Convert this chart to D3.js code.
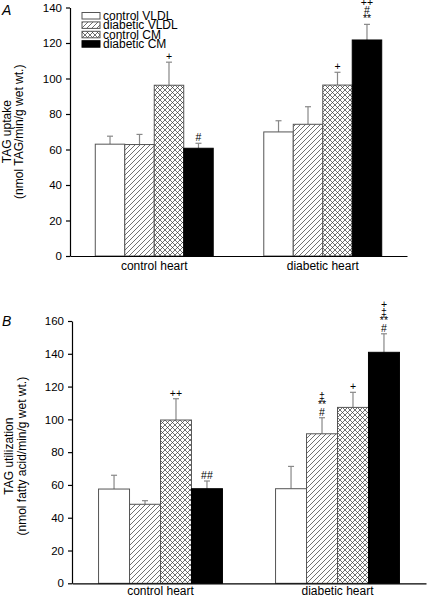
<!DOCTYPE html>
<html><head><meta charset="utf-8">
<script src="https://cdn.jsdelivr.net/npm/d3@7"></script>
<style>body{margin:0;background:#fff} svg{display:block} text{font-family:Arial,"Liberation Sans",sans-serif;fill:#000}</style>
</head><body><svg id="c" width="427" height="599"></svg>
<script>
const categories = ["control heart", "diabetic heart"];
const seriesNames = ["control VLDL", "diabetic VLDL", "control CM", "diabetic CM"];

const uptakeValues = [[63.0, 62.8, 96.2, 60.7], [69.9, 74.2, 96.3, 121.7]];
const uptakeErrors = [[4.5, 5.7, 13.0, 2.8], [6.3, 9.9, 7.2, 8.8]];
const uptakeMarks = [[[], [], ["+"], ["#"]], [[], [], ["+"], ["++", "#", "**"]]];
const uptakeTicks = [0, 20, 40, 60, 80, 100, 120, 140];

const utilValues = [[57.5, 48.2, 99.6, 57.7], [57.7, 91.2, 107.3, 140.9]];
const utilErrors = [[8.4, 2.2, 13.0, 4.7], [13.6, 9.8, 9.2, 11.3]];
const utilMarks = [[[], [], ["++"], ["##"]], [[], ["‡", "**", "#"], ["+"], ["+", "‡", "**", "#"]]];
const utilTicks = [0, 20, 40, 60, 80, 100, 120, 140, 160];

const svg = d3.select("#c");
const defs = svg.append("defs");
const hatch = defs.append("pattern").attr("id", "hatch").attr("patternUnits", "userSpaceOnUse")
  .attr("width", 5).attr("height", 5);
hatch.append("rect").attr("width", 5).attr("height", 5).attr("fill", "#fff");
hatch.append("path").attr("d", "M0,5L5,0M-1,1L1,-1M4,6L6,4").attr("stroke", "#333").attr("stroke-width", 0.7);
const cross = defs.append("pattern").attr("id", "cross").attr("patternUnits", "userSpaceOnUse")
  .attr("width", 5).attr("height", 5);
cross.append("rect").attr("width", 5).attr("height", 5).attr("fill", "#fff");
cross.append("path").attr("d", "M0,5L5,0M-1,1L1,-1M4,6L6,4M0,0L5,5M-1,4L1,6M4,-1L6,1").attr("stroke", "#333").attr("stroke-width", 0.7);

const fills = ["#fff", "url(#hatch)", "url(#cross)", "#000"];
const strokes = ["#555", "#555", "#555", "#000"];
const FONT = "Arial, 'Liberation Sans', sans-serif";

function panel(cfg) {
  const x0 = d3.scaleBand().domain(categories).range([cfg.x0, cfg.x1]).paddingInner(0.3).paddingOuter(0.15);
  const x1 = d3.scaleBand().domain(seriesNames).range([0, x0.bandwidth()]);
  const y = d3.scaleLinear().domain([0, cfg.max]).range([cfg.yBottom, cfg.yTop]);
  const g = svg.append("g");

  categories.forEach((cat, ci) => {
    seriesNames.forEach((s, si) => {
      const v = cfg.values[ci][si], e = cfg.errors[ci][si];
      const bx = x0(cat) + x1(s), bw = x1.bandwidth();
      const cx = bx + bw / 2;
      const et = y(v + e);
      g.append("line").attr("x1", cx).attr("x2", cx).attr("y1", y(v)).attr("y2", et)
        .attr("stroke", "#888").attr("stroke-width", 1.2);
      g.append("line").attr("x1", cx - 3).attr("x2", cx + 3).attr("y1", et).attr("y2", et)
        .attr("stroke", "#888").attr("stroke-width", 1.2);
      g.append("rect").attr("x", bx).attr("y", y(v)).attr("width", bw).attr("height", y(0) - y(v))
        .attr("fill", fills[si]).attr("stroke", strokes[si]).attr("stroke-width", 1);
      const marks = cfg.marks[ci][si];
      const n = marks.length;
      marks.forEach((m, mi) => {
        g.append("text").attr("x", cx).attr("y", et - 2 - (n - 1 - mi) * 8)
          .attr("text-anchor", "middle").attr("font-size", 10.5).text(m);
      });
    });
  });

  const ya = g.append("g").attr("transform", `translate(${cfg.x0},0)`)
    .call(d3.axisLeft(y).tickValues(cfg.ticks).tickSize(4).tickPadding(4).tickSizeOuter(0));
  ya.select(".domain").attr("stroke", "#000").attr("stroke-width", 1.2);
  ya.selectAll(".tick line").attr("stroke", "#000").attr("stroke-width", 1.2);
  ya.selectAll(".tick text").attr("font-size", 11.5).attr("font-family", FONT).attr("fill", "#000");

  const xa = g.append("g").attr("transform", `translate(0,${cfg.yBottom})`)
    .call(d3.axisBottom(x0).tickSize(0).tickPadding(cfg.catPad).tickSizeOuter(0));
  xa.select(".domain").attr("stroke", "#000").attr("stroke-width", 1.2);
  xa.selectAll(".tick text").attr("font-size", 12).attr("font-family", FONT).attr("fill", "#000");

  const ym = (cfg.yBottom + cfg.yTop) / 2 + cfg.labelShift;
  g.append("text").attr("transform", `translate(${cfg.lx1},${ym}) rotate(-90)`).attr("text-anchor", "middle")
    .attr("font-size", 12).text(cfg.label1);
  g.append("text").attr("transform", `translate(${cfg.lx2},${ym}) rotate(-90)`).attr("text-anchor", "middle")
    .attr("font-size", 12).text(cfg.label2);
  g.append("text").attr("x", 2).attr("y", cfg.letterY).attr("font-size", 14).attr("font-style", "italic").text(cfg.letter);
}

panel({x0: 70, x1: 407, yBottom: 256, yTop: 7.5, max: 140, values: uptakeValues, errors: uptakeErrors,
  marks: uptakeMarks, ticks: uptakeTicks, label1: "TAG uptake", label2: "(nmol TAG/min/g wet wt.)",
  lx1: 10.5, lx2: 22.5, labelShift: 0, letter: "A", letterY: 15, catPad: 5});
panel({x0: 72, x1: 426, yBottom: 583.3, yTop: 321, max: 160, values: utilValues, errors: utilErrors,
  marks: utilMarks, ticks: utilTicks, label1: "TAG utilization", label2: "(nmol fatty acid/min/g wet wt.)",
  lx1: 13, lx2: 25.5, labelShift: 4, letter: "B", letterY: 326, catPad: 3.5});

// legend
const leg = svg.append("g");
seriesNames.forEach((s, i) => {
  const yy = 12.5 + i * 9.4;
  leg.append("rect").attr("x", 82).attr("y", yy).attr("width", 18).attr("height", 6.5)
    .attr("fill", fills[i]).attr("stroke", strokes[i]).attr("stroke-width", 1);
  leg.append("text").attr("x", 103).attr("y", yy + 7.5).attr("font-size", 12).text(s);
});
</script></body></html>
